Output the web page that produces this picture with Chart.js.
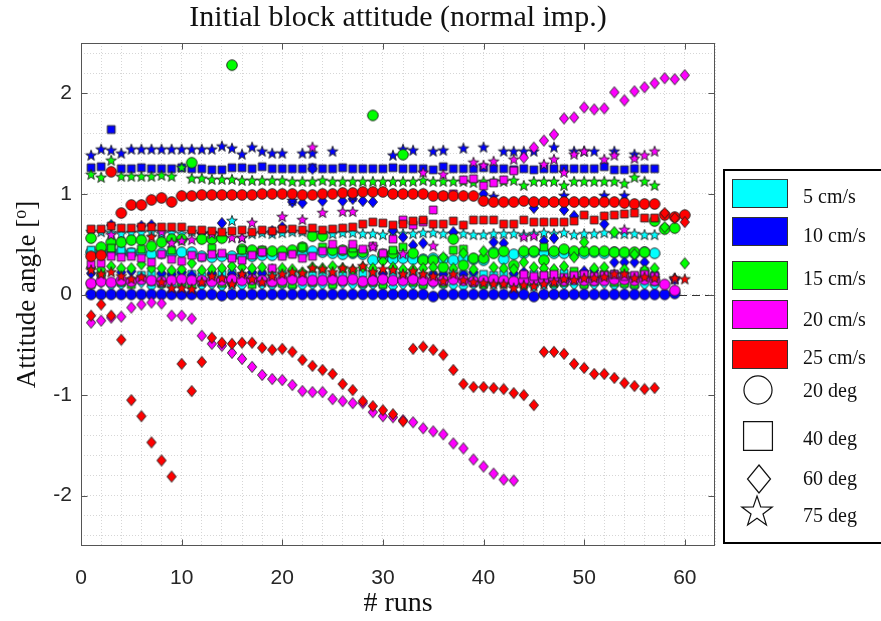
<!DOCTYPE html>
<html>
<head>
<meta charset="utf-8">
<title>Initial block attitude</title>
<script src="https://cdn.jsdelivr.net/npm/chart.js@4.4.0/dist/chart.umd.min.js"></script>
<style>
  html, body { margin: 0; padding: 0; background: #fff; }
  canvas { display: block; }
</style>
</head>
<body>
<canvas id="attitude-chart" width="881" height="621"></canvas>
<script>
'use strict';

// run numbers on the x axis
let runs = [1,2,3,4,5,6,7,8,9,10,11,12,13,14,15,16,17,18,19,20,
  21,22,23,24,25,26,27,28,29,30,31,32,33,34,35,36,37,38,39,40,
  41,42,43,44,45,46,47,48,49,50,51,52,53,54,55,56,57,58,59,60];

let xTicks = [0, 10, 20, 30, 40, 50, 60];
let yTicks = [-2, -1, 0, 1, 2];

let speedLabels = ['5 cm/s', '10 cm/s', '15 cm/s', '20 cm/s', '25 cm/s'];
let angleLabels = ['20 deg', '40 deg', '60 deg', '75 deg'];

// 5 cm/s
let cyanCircle = [0.42,0.41,0.42,0.42,0.41,0.42,0.40,0.41,0.41,0.42,
  0.42,0.38,0.37,0.38,0.38,0.38,0.38,0.39,0.39,0.40,
  0.42,0.41,0.43,0.42,0.41,0.40,0.41,0.40,0.34,0.36,
  0.35,0.36,0.35,0.35,0.36,0.35,0.34,0.36,0.35,0.34,
  0.42,0.35,0.40,0.41,0.42,0.42,0.41,0.41,0.41,0.41,
  0.42,0.41,0.42,0.41,0.41,0.42,0.41,null,null,null];
let cyanSquare = [0.44,0.43,0.45,0.44,0.42,0.19,0.20,0.18,0.20,0.19,
  0.20,0.18,0.19,0.20,0.21,0.18,0.19,0.20,0.19,0.20,
  0.21,0.20,0.19,0.20,0.18,0.19,0.20,0.21,0.20,0.19,
  0.20,0.19,0.20,0.18,0.19,0.20,0.21,0.20,0.19,0.20,
  0.19,0.20,0.18,0.19,0.20,0.19,0.20,0.21,0.19,0.20,
  0.18,0.19,0.20,0.19,0.18,0.20,0.19,null,null,null];
let cyanDiamond = [0.10,0.12,0.09,0.10,0.11,0.12,0.08,0.10,0.09,0.10,
  0.11,0.09,0.10,0.08,0.10,0.09,0.11,0.10,0.09,0.10,
  0.08,0.09,0.10,0.10,0.09,0.11,0.10,0.09,0.10,0.09,
  0.08,0.10,0.10,0.09,0.11,0.10,0.09,0.08,0.10,0.09,
  0.10,0.11,0.10,0.09,0.08,0.10,0.09,0.10,0.10,0.09,
  0.10,0.11,0.09,0.10,0.08,0.10,0.09,null,null,null];
let cyanStar = [0.62,0.62,0.61,0.60,0.61,0.61,0.62,0.60,0.61,0.60,
  0.62,0.60,0.61,0.60,0.73,0.56,0.60,0.61,0.60,0.61,
  0.62,0.62,0.61,0.61,0.60,0.61,0.61,0.60,0.60,0.59,
  0.61,0.60,0.60,0.61,0.61,0.60,0.60,0.60,0.59,0.59,
  0.60,0.60,0.60,0.59,0.60,0.61,0.60,0.61,0.59,0.60,
  0.60,0.61,0.60,0.60,0.60,0.59,0.59,null,null,null];

// 10 cm/s
let blueCircle = [0,0,0,0,0,0,0,0,0,0,
  0,0,0,-0.01,0,0,0,0,0,0,
  0,0,0,0,0,0,0,0,0,0,
  0,0,0,0,-0.02,0,0,0,0,0,
  0,0,0,0,-0.02,0,0,0,0,0,
  0,0,0,0,0,0,0,0,0.01,null];
let blueSquare = [1.26,1.27,1.64,1.25,1.25,1.26,1.25,1.25,1.25,1.26,
  1.25,1.25,1.24,1.24,1.26,1.26,1.25,1.27,1.25,1.25,
  1.25,1.25,1.26,1.25,1.25,1.26,1.25,1.25,1.25,1.25,
  1.26,1.25,1.25,1.25,1.24,1.27,1.25,1.25,1.25,1.26,
  1.25,1.25,1.24,1.25,1.24,1.25,1.25,1.25,1.25,1.25,
  1.25,1.27,1.24,1.24,1.25,1.25,1.25,null,null,null];
let blueDiamond = [0.21,0.19,0.69,0.22,0.23,0.68,0.69,0.21,0.20,0.22,
  0.19,0.61,0.21,0.71,0.20,0.19,0.22,0.21,0.63,0.67,
  0.92,0.91,1.25,0.93,0.46,0.93,0.95,0.93,0.92,0.21,
  0.64,0.57,0.49,0.51,0.20,0.20,0.62,0.20,0.22,1.00,
  0.52,0.51,0.21,0.22,0.86,0.53,0.56,0.84,0.78,0.23,
  0.24,0.70,0.32,0.32,0.32,0.32,0.20,null,0.15,null];
let blueStar = [1.38,1.44,1.43,1.40,1.44,1.44,1.44,1.44,1.44,1.44,
  1.44,1.44,1.44,1.47,1.45,1.39,1.46,1.42,1.40,1.40,
  0.93,1.40,1.40,null,1.42,null,0.97,null,null,null,
  1.38,1.44,1.43,null,1.42,1.43,null,1.45,null,1.46,
  0.97,1.42,1.42,1.42,1.42,null,1.46,0.98,1.42,1.42,
  1.42,0.98,1.42,0.98,1.39,null,null,null,0.15,null];

// 15 cm/s
let greenCircle = [0.56,0.47,0.52,0.52,0.54,0.54,0.48,0.52,0.55,0.55,
  1.31,0.55,0.55,0.56,2.28,0.45,0.44,0.43,0.43,0.43,
  0.44,0.47,0.58,0.58,0.44,0.44,0.42,0.42,1.78,0.40,
  0.41,1.39,0.41,0.34,0.34,0.27,0.55,0.29,0.36,0.36,
  0.41,0.43,0.29,0.43,0.43,0.34,0.43,0.45,0.43,0.43,
  0.43,0.43,0.42,0.42,0.42,0.42,0.73,0.65,0.66,null];
let greenSquare = [0.10,0.20,0.46,0.12,0.10,0.45,0.13,0.11,0.44,0.12,
  0.10,0.13,0.46,0.11,0.12,0.44,0.10,0.44,0.12,0.11,
  0.10,0.47,0.12,0.47,0.10,0.13,0.46,0.11,0.12,0.10,
  0.44,0.47,0.12,0.10,0.13,0.11,0.44,0.45,0.12,0.10,
  0.13,0.11,0.12,0.10,0.13,0.47,0.11,0.12,0.23,0.10,
  0.13,0.20,0.12,0.11,0.10,0.23,0.13,null,null,null];
let greenDiamond = [0.27,0.25,0.28,0.26,0.26,0.30,0.26,0.26,0.24,0.25,
  0.31,0.24,0.25,0.26,0.28,0.27,0.26,0.27,0.25,0.26,
  0.25,0.22,0.27,0.26,0.28,0.26,0.24,0.27,0.26,0.33,
  0.27,0.25,0.25,0.26,0.27,0.37,0.26,0.41,0.25,0.43,
  0.27,0.26,0.25,0.32,0.27,0.26,0.25,0.28,0.37,0.52,
  0.26,0.27,0.62,0.25,0.40,0.24,0.26,0.67,null,0.31];
let greenStar = [1.19,1.16,1.33,1.17,1.17,1.17,1.17,1.18,1.17,1.26,
  1.15,1.15,1.14,1.14,1.14,1.13,1.13,1.13,1.13,1.13,
  1.12,1.12,1.12,1.13,1.12,1.12,1.12,1.12,1.12,1.12,
  1.12,1.12,1.12,1.13,1.12,1.12,1.12,1.12,1.11,1.12,
  1.12,1.12,1.13,1.08,1.12,1.12,1.12,1.08,1.12,1.12,
  1.12,1.12,1.12,1.10,1.16,1.12,1.08,null,null,null];

// 20 cm/s
let magentaCircle = [0.11,0.13,0.12,0.14,0.13,0.15,0.14,0.13,0.14,0.15,
  0.14,0.14,0.13,0.14,0.15,0.14,0.15,0.14,0.13,0.14,
  0.15,0.14,0.14,0.14,0.15,0.14,0.15,0.13,0.14,0.15,
  0.14,0.14,0.15,0.14,0.13,0.14,0.15,0.14,0.13,0.14,
  0.15,0.14,0.13,0.14,0.15,0.14,0.14,0.14,0.15,0.14,
  0.14,0.14,0.15,0.15,0.14,0.15,0.14,0.10,0.04,null];
let magentaSquare = [0.30,0.31,0.38,0.37,0.38,0.36,0.32,0.40,0.35,0.33,
  0.39,0.37,0.40,0.41,0.36,0.34,0.39,0.42,0.26,0.38,
  0.40,0.36,0.38,0.43,0.50,0.44,0.50,0.45,0.48,0.41,
  0.55,0.74,0.69,0.72,0.84,0.98,1.00,1.14,1.15,1.08,
  1.11,1.14,1.23,0.20,0.18,0.19,0.20,0.17,0.19,0.20,
  0.18,0.19,0.20,0.18,0.19,0.20,0.18,null,null,null];
let magentaDiamond = [-0.28,-0.26,-0.23,-0.22,-0.13,-0.10,-0.08,-0.09,-0.21,-0.21,
  -0.24,-0.41,-0.49,-0.51,-0.58,-0.64,-0.72,-0.80,-0.84,-0.85,
  -0.90,-0.96,-0.97,-0.97,-1.04,-1.06,-1.08,-1.08,-1.17,-1.21,
  -1.22,-1.25,-1.27,-1.33,-1.36,-1.39,-1.48,-1.53,-1.64,-1.71,
  -1.78,-1.84,-1.85,1.36,1.46,1.53,1.59,1.75,1.76,1.86,
  1.84,1.85,2.01,1.93,2.02,2.06,2.10,2.15,2.14,2.18];
let magentaStar = [null,null,0.59,null,null,null,null,0.62,0.51,0.53,
  0.54,null,0.60,null,0.56,0.56,0.71,null,null,0.77,
  null,0.74,1.46,0.81,null,0.82,0.82,null,0.47,null,
  null,0.40,null,1.21,0.48,1.19,null,null,1.31,1.28,
  1.32,null,1.34,0.57,0.58,1.29,1.34,1.21,1.39,1.42,
  null,1.34,1.38,0.64,1.35,1.38,1.42,null,0.15,null];

// 25 cm/s
let redCircle = [0.38,0.39,1.22,0.81,0.89,0.89,0.94,0.96,0.92,0.98,
  0.98,0.99,0.99,0.99,0.99,0.99,0.99,1.00,1.00,1.00,
  1.00,0.99,0.99,1.00,1.00,1.01,1.01,1.02,1.02,1.02,
  1.00,1.00,1.00,1.00,0.98,0.98,0.98,0.98,0.98,0.93,
  0.92,0.92,0.92,0.93,0.92,0.92,0.92,0.92,0.92,0.92,
  0.92,0.92,0.92,0.91,0.90,0.90,0.90,0.79,0.77,0.79];
let redSquare = [0.65,0.65,0.68,0.66,0.66,0.67,0.67,0.67,0.67,0.67,
  0.64,0.64,0.63,0.62,0.63,0.64,0.62,0.64,0.63,0.65,
  0.65,0.64,0.66,0.64,0.65,0.66,0.67,0.70,0.72,0.71,
  0.69,0.70,0.73,0.74,0.70,0.70,0.73,0.69,0.74,0.74,
  0.74,0.70,0.70,0.74,0.72,0.72,0.72,0.72,0.73,0.79,
  0.74,0.78,0.79,0.80,0.81,0.76,0.76,null,null,null];
let redDiamond = [-0.21,-0.10,-0.21,-0.45,-1.05,-1.21,-1.47,-1.65,-1.81,-0.69,
  -0.96,-0.67,-0.43,-0.48,-0.49,-0.48,-0.48,-0.53,-0.55,-0.54,
  -0.57,-0.65,-0.71,-0.75,-0.79,-0.89,-0.95,-1.06,-1.11,-1.15,
  -1.19,-1.26,-0.54,-0.52,-0.55,-0.60,-0.75,-0.89,-0.92,-0.92,
  -0.93,-0.94,-0.98,-1.00,-1.10,-0.57,-0.57,-0.59,-0.69,-0.73,
  -0.79,-0.79,-0.83,-0.88,-0.91,-0.94,-0.93,0.81,0.76,0.72];
let redStar = [0.24,0.20,0.22,0.18,0.15,0.17,0.57,0.12,0.06,0.06,
  0.05,0.12,0.18,0.16,0.10,0.20,0.15,0.12,0.18,0.20,
  0.22,0.21,0.26,0.25,0.22,0.26,0.25,0.28,0.22,0.25,
  0.24,0.20,0.23,0.20,0.18,0.13,0.20,0.14,0.12,0.11,
  0.10,0.10,0.06,0.09,0.08,0.10,0.12,0.15,0.14,0.16,
  0.16,0.17,0.20,0.20,0.16,0.17,0.16,null,0.16,0.15];

let speedColors = ['#00ffff', '#0000ff', '#00ff00', '#ff00ff', '#ff0000'];
let angleShapes = ['circle', 'square', 'diamond', 'star'];

let seriesTable = [
  [cyanCircle, cyanSquare, cyanDiamond, cyanStar],
  [blueCircle, blueSquare, blueDiamond, blueStar],
  [greenCircle, greenSquare, greenDiamond, greenStar],
  [magentaCircle, magentaSquare, magentaDiamond, magentaStar],
  [redCircle, redSquare, redDiamond, redStar]
];

function starPath(ctx, cx, cy, outer, inner) {
  ctx.beginPath();
  for (let i = 0; i < 10; i++) {
    let ang = -Math.PI / 2 + i * Math.PI / 5;
    let rr = (i % 2 === 0) ? outer : inner;
    let px = cx + rr * Math.cos(ang);
    let py = cy + rr * Math.sin(ang);
    if (i === 0) ctx.moveTo(px, py); else ctx.lineTo(px, py);
  }
  ctx.closePath();
}

function shapePath(ctx, shape, cx, cy, k) {
  if (shape === 'circle') {
    ctx.beginPath();
    ctx.arc(cx, cy, 5.3 * k, 0, Math.PI * 2);
  } else if (shape === 'square') {
    ctx.beginPath();
    ctx.rect(cx - 3.9 * k, cy - 3.9 * k, 7.8 * k, 7.8 * k);
  } else if (shape === 'diamond') {
    ctx.beginPath();
    ctx.moveTo(cx, cy - 5.6 * k);
    ctx.lineTo(cx + 4.6 * k, cy);
    ctx.lineTo(cx, cy + 5.6 * k);
    ctx.lineTo(cx - 4.6 * k, cy);
    ctx.closePath();
  } else {
    starPath(ctx, cx, cy, 5.6 * k, 2.3 * k);
  }
}

function makeMarker(shape, fill) {
  let c = document.createElement('canvas');
  c.width = 16;
  c.height = 16;
  let g = c.getContext('2d');
  shapePath(g, shape, 8, 8, 1);
  g.fillStyle = fill;
  g.fill();
  g.strokeStyle = '#1e1e1e';
  g.lineWidth = 0.9;
  g.stroke();
  return c;
}

let datasets = [];
for (let s = 0; s < speedColors.length; s++) {
  for (let a = 0; a < angleShapes.length; a++) {
    let vals = seriesTable[s][a];
    let pts = [];
    for (let i = 0; i < runs.length; i++) {
      if (vals[i] !== null) pts.push({x: runs[i], y: vals[i]});
    }
    datasets.push({
      label: speedLabels[s] + ' ' + angleLabels[a],
      data: pts,
      pointStyle: makeMarker(angleShapes[a], speedColors[s]),
      pointRadius: 5,
      pointHoverRadius: 5,
      showLine: false,
      order: -datasets.length
    });
  }
}

let serif = '"Liberation Serif", "Times New Roman", serif';

let paperPlugin = {
  id: 'paperPlugin',
  beforeDatasetsDraw(chart) {
    let {ctx, chartArea, scales} = chart;
    let y0 = Math.round(scales.y.getPixelForValue(0)) + 0.5;
    ctx.save();
    ctx.strokeStyle = '#333';
    ctx.lineWidth = 1;
    ctx.setLineDash([8, 5]);
    ctx.beginPath();
    ctx.moveTo(chartArea.left, y0);
    ctx.lineTo(chartArea.right, y0);
    ctx.stroke();
    ctx.restore();
  },
  afterDatasetsDraw(chart) {
    let {ctx, chartArea, scales} = chart;
    let l = chartArea.left + 0.5, r = chartArea.right - 0.5;
    let t = chartArea.top + 0.5, b = chartArea.bottom - 0.5;
    ctx.save();
    ctx.strokeStyle = '#555';
    ctx.lineWidth = 1;
    ctx.strokeRect(l, t, r - l, b - t);
    ctx.beginPath();
    xTicks.forEach(v => {
      let px = Math.round(scales.x.getPixelForValue(v)) + 0.5;
      ctx.moveTo(px, b); ctx.lineTo(px, b - 6);
      ctx.moveTo(px, t); ctx.lineTo(px, t + 6);
    });
    yTicks.forEach(v => {
      let py = Math.round(scales.y.getPixelForValue(v)) + 0.5;
      ctx.moveTo(l, py); ctx.lineTo(l + 6, py);
      ctx.moveTo(r, py); ctx.lineTo(r - 6, py);
    });
    ctx.stroke();
    ctx.restore();
  },
  afterDraw(chart) {
    let ctx = chart.ctx;
    let area = chart.chartArea;
    let midX = (area.left + area.right) / 2;
    ctx.save();
    ctx.fillStyle = '#111';
    ctx.textAlign = 'center';
    ctx.textBaseline = 'middle';

    // title
    ctx.font = '30px ' + serif;
    ctx.fillText('Initial block attitude (normal imp.)', midX, 18);

    // x label
    ctx.font = '28px ' + serif;
    ctx.fillText('# runs', midX, 604);

    // y label with raised small o
    ctx.save();
    ctx.translate(28, (area.top + area.bottom) / 2);
    ctx.rotate(-Math.PI / 2);
    let partA = 'Attitude angle [';
    let partB = 'o';
    let partC = ']';
    ctx.font = '27px ' + serif;
    let wA = ctx.measureText(partA).width;
    let wC = ctx.measureText(partC).width;
    ctx.font = '18px ' + serif;
    let wB = ctx.measureText(partB).width;
    let x0 = -(wA + wB + wC) / 2;
    ctx.textAlign = 'left';
    ctx.font = '27px ' + serif;
    ctx.fillText(partA, x0, 0);
    ctx.font = '18px ' + serif;
    ctx.fillText(partB, x0 + wA, -7);
    ctx.font = '27px ' + serif;
    ctx.fillText(partC, x0 + wA + wB, 0);
    ctx.restore();

    // legend box
    ctx.lineWidth = 2;
    ctx.strokeStyle = '#000';
    ctx.strokeRect(724, 170, 200, 373);

    let rectTops = [179, 217, 261, 300, 340];
    let speedTextY = [198, 237, 280, 321, 359];
    ctx.textAlign = 'left';
    ctx.font = '20px ' + serif;
    for (let i = 0; i < speedLabels.length; i++) {
      ctx.fillStyle = speedColors[i];
      ctx.fillRect(732, rectTops[i], 55, 28);
      ctx.lineWidth = 1;
      ctx.strokeStyle = '#333';
      ctx.strokeRect(732.5, rectTops[i] + 0.5, 55, 28);
      ctx.fillStyle = '#111';
      ctx.fillText(speedLabels[i], 803, speedTextY[i]);
    }

    let iconY = [390, 436, 479, 511];
    let angleTextY = [392, 440, 480, 517];
    ctx.lineWidth = 1.2;
    ctx.strokeStyle = '#111';
    ctx.fillStyle = '#fff';
    shapePath(ctx, 'circle', 758, iconY[0], 2.65); ctx.fill(); ctx.stroke();
    shapePath(ctx, 'square', 758, iconY[1], 3.7); ctx.fill(); ctx.stroke();
    shapePath(ctx, 'diamond', 759, iconY[2], 2.5); ctx.fill(); ctx.stroke();
    starPath(ctx, 757, iconY[3] + 1, 16, 6.3); ctx.fill(); ctx.stroke();
    ctx.fillStyle = '#111';
    for (let i = 0; i < angleLabels.length; i++) {
      ctx.fillText(angleLabels[i], 803, angleTextY[i]);
    }
    ctx.restore();
  }
};

let tickFont = {family: '"Liberation Sans", Arial, sans-serif', size: 21};
let gridGray = '#d6d6d6';

// grid every 0.2 on y; ticks are generated every 0.1 so integers line up
function yGridColor(c) {
  let v = c.tick.value * 5;
  return Math.abs(v - Math.round(v)) < 1e-6 ? gridGray : 'rgba(0,0,0,0)';
}

new Chart(document.getElementById('attitude-chart'), { //eslint-disable-line
  type: 'scatter',
  data: {datasets: datasets},
  plugins: [paperPlugin],
  options: {
    responsive: false,
    animation: false,
    events: [],
    layout: {padding: {top: 43, right: 166, left: 0, bottom: 0}},
    plugins: {
      legend: {display: false},
      title: {display: false},
      tooltip: {enabled: false}
    },
    scales: {
      x: {
        type: 'linear',
        min: 0,
        max: 63,
        afterFit(scale) { scale.height = 75; },
        ticks: {
          stepSize: 2,
          autoSkip: false,
          maxRotation: 0,
          padding: 20,
          color: '#262626',
          font: tickFont,
          callback: v => (xTicks.indexOf(v) >= 0 ? String(v) : '')
        },
        grid: {color: gridGray, lineWidth: 1, drawTicks: false},
        border: {display: false, dash: [1, 2]}
      },
      y: {
        type: 'linear',
        min: -2.5,
        max: 2.5,
        afterFit(scale) { scale.width = 81; },
        ticks: {
          stepSize: 0.1,
          autoSkip: false,
          padding: 9,
          color: '#262626',
          font: tickFont,
          callback: v => {
            let r = Math.round(v);
            return (Math.abs(v - r) < 1e-6 && yTicks.indexOf(r) >= 0) ? String(r) : '';
          }
        },
        grid: {color: yGridColor, lineWidth: 1, drawTicks: false},
        border: {display: false, dash: [1, 2]}
      }
    }
  }
});
</script>
</body>
</html>
